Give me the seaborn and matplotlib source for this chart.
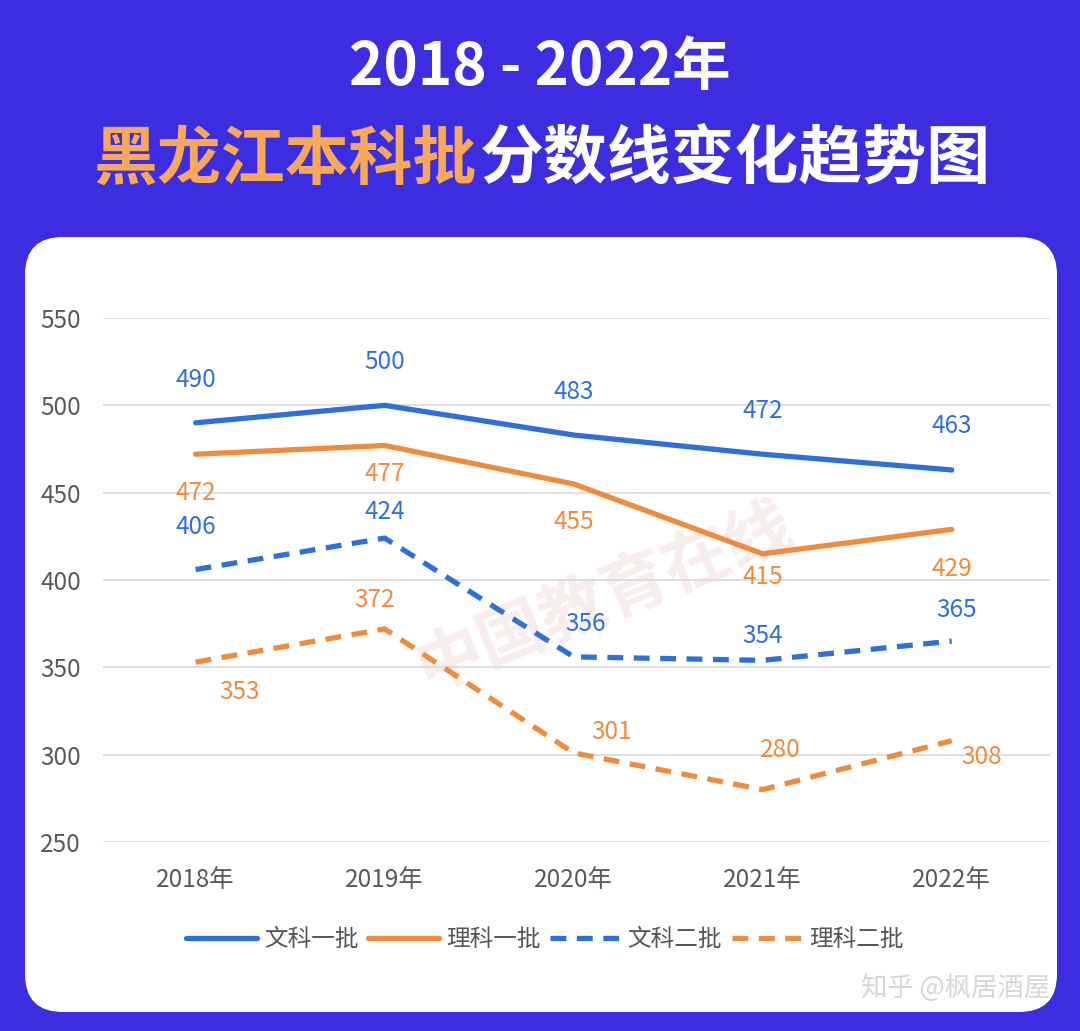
import matplotlib.pyplot as plt
import pandas as pd
import seaborn as sns
from matplotlib.patches import FancyBboxPatch
from matplotlib.transforms import IdentityTransform

years = ['2018年', '2019年', '2020年', '2021年', '2022年']
wen_1 = [490, 500, 483, 472, 463]
li_1 = [472, 477, 455, 415, 429]
wen_2 = [406, 424, 356, 354, 365]
li_2 = [353, 372, 301, 280, 308]
series_names = ['文科一批', '理科一批', '文科二批', '理科二批']

BLUE = '#2f6fdc'
ORANGE = '#f08a3c'
BG = '#3c2ee0'

sns.set_style('white')
plt.rcParams['font.family'] = ['Noto Sans CJK SC', 'DejaVu Sans']

fig = plt.figure(figsize=(10.8, 10.31), dpi=100)
fig.patch.set_facecolor(BG)

# white rounded panel
panel = FancyBboxPatch((25, 19), 1032, 775, boxstyle='round,pad=0,rounding_size=38',
                       transform=IdentityTransform(), facecolor='white', edgecolor='none', zorder=-10)
fig.patches.append(panel)

# title
fig.text(0.5, 1 - 68 / 1031, '2018 - 2022年', color='white', fontsize=42, fontweight='bold',
         ha='center', va='center')
fig.text(476 / 1080, 1 - 160 / 1031, '黑龙江本科批', color='#f7a85a', fontsize=46,
         fontweight='bold', ha='right', va='center')
fig.text(480 / 1080, 1 - 160 / 1031, '分数线变化趋势图', color='white', fontsize=46,
         fontweight='bold', ha='left', va='center')

# faint watermark
fig.text(0.56, 0.42, '中国教育在线', color='#f3dada', fontsize=48, fontweight='bold',
         rotation=22, ha='center', va='center', alpha=0.5, zorder=-5)

ax = fig.add_axes([103 / 1080, 1 - 842 / 1031, (1050 - 103) / 1080, (842 - 318) / 1031])
ax.set_facecolor('none')
ax.set_zorder(2)

df = pd.DataFrame({'year': years, '文科一批': wen_1, '理科一批': li_1,
                   '文科二批': wen_2, '理科二批': li_2})
x = list(range(len(years)))

styles = {
    '文科一批': (BLUE, '-'),
    '理科一批': (ORANGE, '-'),
    '文科二批': (BLUE, (0, (3, 2))),
    '理科二批': (ORANGE, (0, (3, 2))),
}
for name in series_names:
    c, ls = styles[name]
    sns.lineplot(x=x, y=df[name], ax=ax, color=c, linestyle=ls, linewidth=3.8,
                 label=name, zorder=3)

# data label offsets (pixels)
offsets = {
    '文科一批': [(0, 43), (0, 43), (0, 43), (0, 43), (0, 44)],
    '理科一批': [(0, -39), (0, -28), (0, -38), (0, -23), (0, -40)],
    '文科二批': [(0, 43), (0, 26), (12, 33), (0, 24), (5, 31)],
    '理科二批': [(44, -30), (-10, 29), (38, 21), (18, 40), (30, -16)],
}
for name in series_names:
    c = styles[name][0]
    for i, v in enumerate(df[name]):
        dx, dy = offsets[name][i]
        ax.annotate(str(v), (i, v), xytext=(dx, dy), textcoords='offset pixels',
                    ha='center', va='center', color=c, fontsize=17.5)

ax.set_xlim(-0.49, 4.52)
ax.set_ylim(250, 550)
ax.set_yticks(range(250, 551, 50))
ax.set_xticks(x)
ax.set_xticklabels(years)
ax.set_xlabel('')
ax.set_ylabel('')
ax.grid(axis='y', color='#d9d9d9', linewidth=1.2)
ax.grid(axis='x', visible=False)
for s in ax.spines.values():
    s.set_visible(False)
ax.tick_params(axis='both', length=0, labelsize=17.5, labelcolor='#595959')
ax.tick_params(axis='x', pad=18)
ax.tick_params(axis='y', pad=16)

ax.legend(loc='center', bbox_to_anchor=(545 / 1080, 1 - 940 / 1031),
          bbox_transform=fig.transFigure, ncol=4, frameon=False, fontsize=17,
          handlelength=3.0, handletextpad=0.3, columnspacing=0.4, labelcolor='#555555')

fig.text(1050 / 1080, 1 - 988 / 1031, '知乎 @枫居酒屋', color='#d6d6d6', fontsize=19,
         ha='right', va='center')

fig.savefig('out.png', dpi=100, facecolor=BG)
